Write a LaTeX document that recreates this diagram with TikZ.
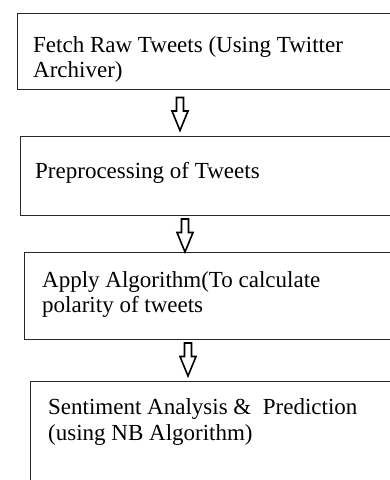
\documentclass[tikz,border=0pt]{standalone}
\usepackage{fontspec}
\setmainfont{Liberation Serif}
\begin{document}
\begin{tikzpicture}[x=1pt,y=1pt,
  stepbox/.style={draw=black!85,line width=1pt,rectangle,anchor=north west,inner sep=0pt},
  label/.style={anchor=base west,inner sep=0pt,font=\fontsize{23}{25}\selectfont},
  downarrow/.style={draw=black,line width=1.6pt,line join=miter}]
\useasboundingbox (0,0) rectangle (390,-480);
\clip (0,0) rectangle (390,-480);
\node[stepbox,minimum width=400pt,minimum height=76pt] (b1) at (17,-13) {};
\node[stepbox,minimum width=400pt,minimum height=79pt] (b2) at (20,-136) {};
\node[stepbox,minimum width=400pt,minimum height=87pt] (b3) at (24,-252) {};
\node[stepbox,minimum width=400pt,minimum height=120pt] (b4) at (30,-381) {};
\node[label] (t1a) at (33,-52) {Fetch Raw Tweets (Using Twitter};
\node[label] (t1b) at (33,-77) {Archiver)};
\node[label] (t2a) at (35,-178) {Preprocessing of Tweets};
\node[label] (t3a) at (42,-287) {Apply Algorithm(To calculate};
\node[label] (t3b) at (42,-312) {polarity of tweets};
\node[label] (t4a) at (48,-414) {Sentiment Analysis \&\ \ Prediction};
\node[label] (t4b) at (48,-440) {(using NB Algorithm)};
\coordinate (a1) at (180,-97.5);
\coordinate (a2) at (185,-219);
\coordinate (a3) at (188,-343);
\foreach \a in {a1,a2,a3}{
  \draw[downarrow] (\a) ++(-3.5,0) -- ++(0,-13.5) -- ++(-4.5,0) -- ++(8,-19.5)
    -- ++(8,19.5) -- ++(-4.5,0) -- ++(0,13.5) -- cycle;
}
\end{tikzpicture}
\end{document}
